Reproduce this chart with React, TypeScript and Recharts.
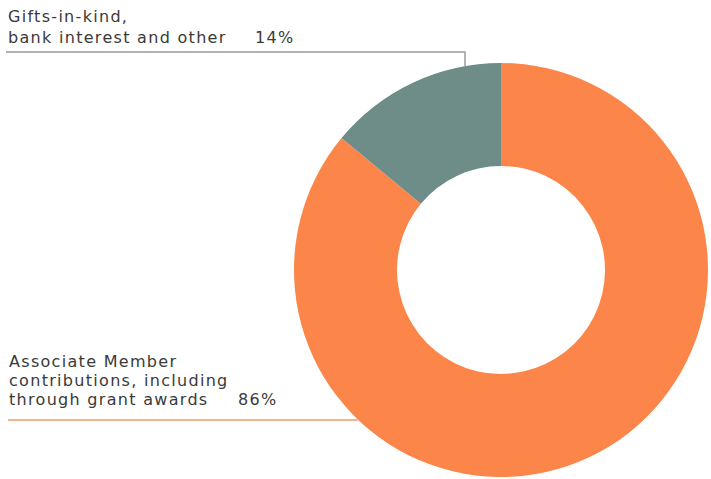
import { PieChart, Pie, Cell } from 'recharts';

// shares of income, in %
const categories = ['Associate Member contributions', 'Gifts-in-kind, bank interest and other'];
const shares = [86, 14];
const labelLines = [
    ['Associate Member', 'contributions, including', 'through grant awards'],
    ['Gifts-in-kind,', 'bank interest and other'],
];
const colors = ['#FC8549', '#6E8C88'];
const leaderColors = ['#F8B396', '#9A9A9A'];

const data = categories.map((name, i) => ({ name, value: shares[i] }));

const textStyle = {
    fontSize: 16,
    fill: '#3a3a3a',
    fontFamily: '"DejaVu Sans", sans-serif',
    letterSpacing: 1.3,
};

function renderLabel(props: any) {
    const { cx, cy, outerRadius, index, percent } = props;
    const pct = `${Math.round(percent * 100)}%`;
    const lines = labelLines[index];
    if (index === 0) {
        // line along the bottom of the text, to the ring's edge
        const ly = 420;
        const ex = cx - Math.sqrt(outerRadius * outerRadius - (ly - cy) * (ly - cy));
        return (
            <g key="lbl0">
                {lines.map((t, i) => (
                    <text key={i} x={9} y={367 + i * 19} style={textStyle}>
                        {t}
                    </text>
                ))}
                <text x={238} y={405} style={textStyle}>{pct}</text>
                <line x1={8} y1={ly} x2={ex} y2={ly} stroke={leaderColors[0]} strokeWidth={2} />
            </g>
        );
    }
    const ly = 52;
    const lx = 465;
    const ey = cy - Math.sqrt(outerRadius * outerRadius - (lx - cx) * (lx - cx));
    return (
        <g key="lbl1">
            {lines.map((t, i) => (
                <text key={i} x={8} y={22 + i * 21} style={textStyle}>
                    {t}
                </text>
            ))}
            <text x={255} y={43} style={textStyle}>{pct}</text>
            <polyline
                points={`6,${ly} ${lx},${ly} ${lx},${ey}`}
                fill="none"
                stroke={leaderColors[1]}
                strokeWidth={1.5}
            />
        </g>
    );
}

export default function App() {
    return (
        <div style={{ position: 'fixed', left: 0, top: 0, width: 711, height: 479, background: '#fff' }}>
            <PieChart width={711} height={479} margin={{ top: 0, right: 0, bottom: 0, left: 0 }}>
                <Pie
                    data={data}
                    dataKey="value"
                    cx={501}
                    cy={270}
                    innerRadius={104}
                    outerRadius={207}
                    startAngle={90}
                    endAngle={-270}
                    stroke="none"
                    label={renderLabel}
                    labelLine={false}
                    isAnimationActive={false}
                >
                    {data.map((d, i) => (
                        <Cell key={d.name} fill={colors[i]} />
                    ))}
                </Pie>
            </PieChart>
        </div>
    );
}
